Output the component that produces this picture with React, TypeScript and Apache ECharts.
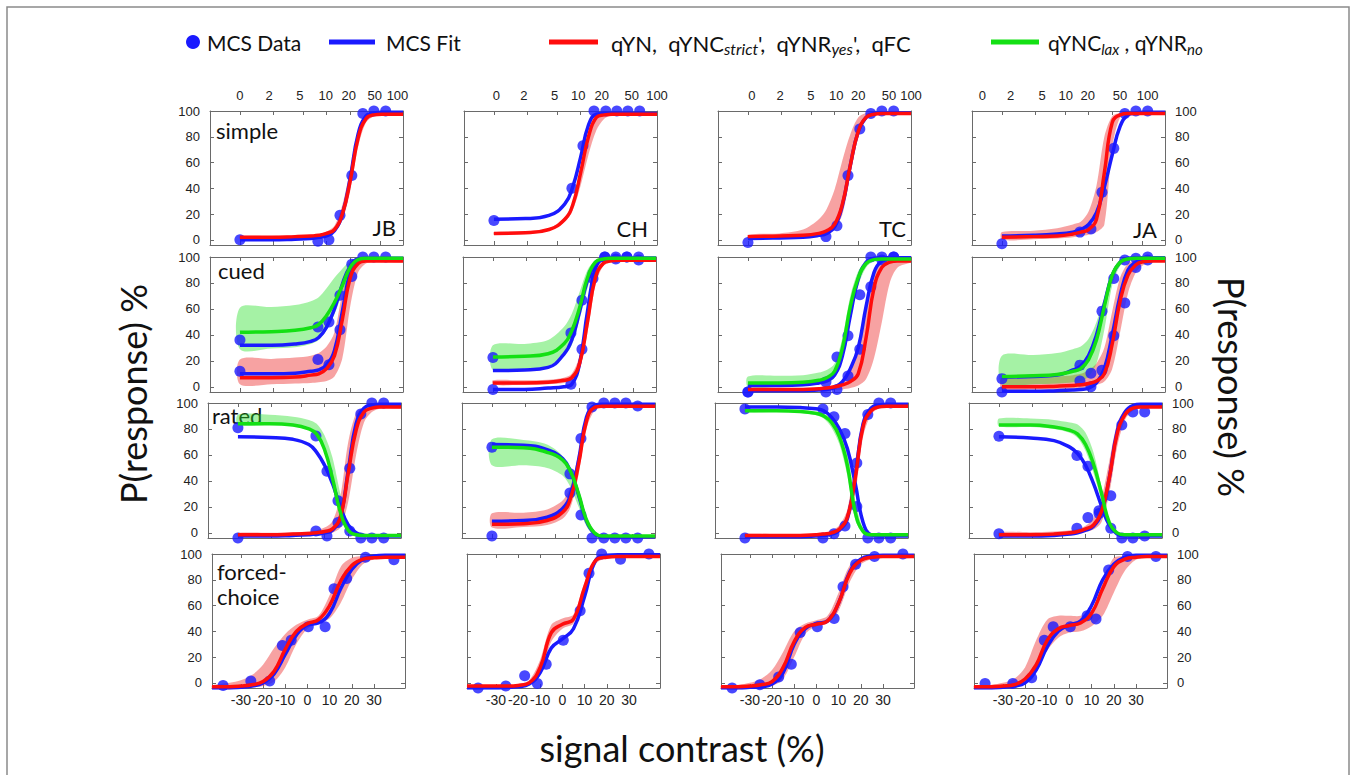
import { useEffect, useRef } from "react";
import * as echarts from "echarts";

// ---------- x grids ----------
// log10(contrast + 1) positions of the fitted curves (rows simple / cued / rated)
const FIT_LOG_CONTRAST = [0, 0.4, 0.7, 0.9, 1.0, 1.1, 1.2, 1.3, 1.4, 1.5, 1.6, 1.7, 1.8, 1.9, 2.07];
// log contrast levels of the measured points
const DATA_LOG_CONTRAST = [0, 0.99, 1.13, 1.27, 1.42, 1.56, 1.7, 1.85];
// signed contrast (%) for forced-choice fits and data
const FC_FIT_CONTRAST = [-43, -35, -30, -25, -20, -15, -10, -5, 0, 5, 10, 15, 20, 25, 30, 35, 44];
const FC_DATA_CONTRAST = [-38, -25.5, -17, -11.3, -7.3, 0.4, 8, 12, 17.7, 26.2, 39];

// ---------- tick labels ----------
const CONTRAST_TICK_LABELS = ["0", "2", "5", "10", "20", "50", "100"];
const CONTRAST_LABEL_POS = [
  [0, 0.37, 0.76, 1.09, 1.38, 1.71, 2.0],
  [0.03, 0.38, 0.77, 1.07, 1.37, 1.75, 2.07],
  [0.05, 0.41, 0.8, 1.12, 1.4, 1.79, 2.07],
  [-0.25, 0.11, 0.51, 0.81, 1.09, 1.5, 1.85],
];
const CONTRAST_TICKS = [0, 0.42, 0.81, 1.1, 1.4, 1.78];
const FC_TICK_LABELS = [-30, -20, -10, 0, 10, 20, 30];
const PCT_TICKS = [0, 20, 40, 60, 80, 100];
const SUBJECTS = ["JB", "CH", "TC", "JA"];

// ---------- simple ----------
const JB_SIMPLE_FIT = [0, 0, 0.5, 1, 2, 3, 7, 20, 48, 82, 96, 98.5, 99, 99, 99];
const JB_SIMPLE_Q = [2, 2, 2.5, 3, 3.5, 5, 8, 20, 46, 79, 94, 97, 97.5, 97.5, 97.5];
const JB_SIMPLE_Q_LO = [1, 1, 1.5, 2, 2.5, 3.5, 6, 15, 38, 72, 91, 96, 97, 97, 97];
const JB_SIMPLE_Q_HI = [3, 3, 3.5, 4, 4.5, 6.5, 11, 27, 55, 85, 96, 98, 98, 98, 98];
const JB_SIMPLE_DATA = [0, -1, 0, 19, 50, 98, 100, 100];

const CH_SIMPLE_FIT = [16, 16.5, 19, 28, 41, 64, 89, 97.5, 98, 98, 98, 98, 98, 98, 98];
const CH_SIMPLE_Q = [5, 5.5, 8, 16, 27, 52, 80, 95, 97, 97.5, 97.5, 97.5, 97.5, 97.5, 97.5];
const CH_SIMPLE_Q_LO = [4, 4.5, 7, 14, 23, 42, 66, 85, 94, 96.5, 97, 97, 97, 97, 97];
const CH_SIMPLE_Q_HI = [6, 6.5, 9, 18, 29, 56, 83, 96, 98, 98, 98, 98, 98, 98, 98];
const CH_SIMPLE_DATA = [15, 40, 73, 100, 100, 100, 100, 100];

const TC_SIMPLE_FIT = [1, 1.5, 2, 3.5, 5, 10, 27, 58, 84, 95, 98, 98.5, 98.5, 98.5, 98.5];
const TC_SIMPLE_Q = [2.5, 3, 3.5, 5, 7, 12, 28, 58, 84, 95, 97.5, 98, 98, 98, 98];
const TC_SIMPLE_Q_LO = [1, 1.5, 2, 3, 4, 8, 20, 50, 80, 93, 97, 98, 98, 98, 98];
const TC_SIMPLE_Q_HI = [4, 5, 8, 16, 24, 39, 62, 82, 95, 98.5, 99, 99, 99, 99, 99];
const TC_SIMPLE_DATA = [-2, 2.5, 11, 50, 86, 98, 100, 100];

const JA_SIMPLE_FIT = [3, 3.5, 4.5, 6, 8, 12, 21, 41, 66, 88, 97, 98.5, 99, 99, 99];
const JA_SIMPLE_Q = [2, 2.5, 3, 4.5, 6, 8, 16, 52, 91, 97, 98, 98, 98, 98, 98];
const JA_SIMPLE_Q_LO = [0, 0.5, 1, 2, 3, 4, 6, 12, 72, 95, 97, 97.5, 97.5, 97.5, 97.5];
const JA_SIMPLE_Q_HI = [6, 7, 9, 12, 14, 22, 42, 80, 96, 98.5, 99, 99, 99, 99, 99];
const JA_SIMPLE_DATA = [-3, 6, 8.5, 37, 71, 98, 100, 100];

// ---------- cued ----------
const JB_CUED_FIT_LAX = [32, 32, 33, 35, 38, 46, 60, 79, 93, 98.5, 99, 99, 99, 99, 99];
const JB_CUED_FIT_STRICT = [10, 10, 10.5, 12, 13, 17, 28, 58, 88, 97, 98.5, 98.5, 98.5, 98.5, 98.5];
const JB_CUED_Q = [7, 7, 7.5, 9, 10, 14, 24, 52, 84, 95, 97, 97, 97, 97, 97];
const JB_CUED_Q_LO = [2, 2, 2.5, 3, 3.5, 4.5, 8, 22, 62, 88, 95, 96, 96, 96, 96];
const JB_CUED_Q_HI = [21, 21.5, 22.5, 24, 26, 31, 42, 72, 92, 97.5, 98, 98, 98, 98, 98];
const JB_CUED_LAX = [42, 42.5, 43.5, 45.5, 48, 55, 65, 78, 92, 98, 99, 99, 99, 99, 99];
const JB_CUED_LAX_LO = [29, 29.5, 30.5, 33, 36, 44, 56, 72, 87, 96, 98, 98, 98, 98, 98];
const JB_CUED_LAX_HI = [61, 61.5, 63, 66, 69, 76, 84, 91, 97, 99, 99.5, 99.5, 99.5, 99.5, 99.5];
const JB_CUED_DATA_LAX = [36, 46, 50, 70.5, 94.5, null, null, null];
const JB_CUED_DATA_STRICT = [12, 21, 17, 44, 85, 100, 100, 100];

const CH_CUED_FIT_LAX = [12.5, 13, 15, 25, 36, 58, 82, 95, 98.5, 99, 99, 99, 99, 99, 99];
const CH_CUED_FIT_STRICT = [-2, -2, -1, 0, 2, 18, 58, 91, 98.5, 99, 99, 99, 99, 99, 99];
const CH_CUED_Q = [3, 3, 3.5, 5, 7, 18, 50, 84, 95, 97, 97.5, 97.5, 97.5, 97.5, 97.5];
const CH_CUED_Q_LO = [1.5, 1.5, 2, 3, 5, 13, 42, 78, 93, 96, 97, 97, 97, 97, 97];
const CH_CUED_Q_HI = [5, 5, 5.5, 7, 10, 24, 60, 90, 97, 98, 98, 98, 98, 98, 98];
const CH_CUED_LAX = [23, 23.5, 25.5, 33, 43, 61, 84, 96, 98.5, 99, 99, 99, 99, 99, 99];
const CH_CUED_LAX_LO = [13, 14, 16, 24, 32, 52, 76, 93, 97.5, 98.5, 98.5, 98.5, 98.5, 98.5, 98.5];
const CH_CUED_LAX_HI = [32, 33, 36, 46, 56, 73, 90, 97.5, 99, 99.5, 99.5, 99.5, 99.5, 99.5, 99.5];
const CH_CUED_DATA_LAX = [22.6, 41.5, 66.6, 87.3, 100, 98.4, 100, 100];
const CH_CUED_DATA_STRICT = [-2, 2, 29, 83.5, 100, 100, 100, 97.7];

const TC_CUED_FIT_LAX = [1, 1, 1.5, 3, 4.5, 9, 24, 55, 83, 96, 99, 99.5, 99.5, 99.5, 99.5];
const TC_CUED_FIT_STRICT = [-3, -3, -3, -2.5, -2, -0.5, 4, 14, 30, 62, 88, 97, 98.5, 98.5, 98.5];
const TC_CUED_Q = [-2, -2, -2, -1.5, -1, 0, 1.5, 4, 10, 38, 76, 92, 96, 97, 97];
const TC_CUED_Q_LO = [-3, -3, -3, -3, -3, -2.5, -2, -1, 1, 6, 22, 50, 80, 92, 96];
const TC_CUED_Q_HI = [-1, -1, -1, -0.5, 0, 1.5, 5, 14, 32, 66, 88, 96, 97.5, 98, 98];
const TC_CUED_LAX = [3, 3, 3.5, 5, 7, 12, 30, 62, 84, 95, 98, 98.5, 98.5, 98.5, 98.5];
const TC_CUED_LAX_LO = [0, 0, 0.5, 2, 3, 7, 22, 53, 78, 92, 97, 98, 98, 98, 98];
const TC_CUED_LAX_HI = [8, 8.5, 9, 11, 13, 18, 38, 70, 89, 97, 99, 99, 99, 99, 99];
const TC_CUED_DATA_LAX = [-4, 3.7, 23, 39.4, 71, 100, 100, 100];
const TC_CUED_DATA_STRICT = [-4, -4, -2, 8.4, 29, 77, 97.7, 100];

const JA_CUED_FIT_LAX = [7.5, 8, 9, 13, 16, 24, 40, 64, 86, 96, 99, 99.5, 99.5, 99.5, 99.5];
const JA_CUED_FIT_STRICT = [-3.5, -3.5, -3, -2.5, -2, -1, 3, 14, 40, 70, 90, 96, 98, 98.5, 98.5];
const JA_CUED_Q = [0, 0, 0.5, 1, 1.5, 2.5, 4.5, 10, 33, 66, 86, 94, 96.5, 97, 97];
const JA_CUED_Q_LO = [-2, -2, -2, -1.5, -1, 0, 1.5, 4, 14, 42, 72, 88, 94, 96, 96.5];
const JA_CUED_Q_HI = [7, 7, 8, 9, 10, 13, 18, 30, 58, 84, 95, 97.5, 98, 98, 98];
const JA_CUED_LAX = [8, 8.5, 9.5, 12, 14, 21, 36, 62, 86, 96, 98.5, 99, 99, 99, 99];
const JA_CUED_LAX_LO = [2, 2, 2.5, 3.5, 4.5, 8, 18, 44, 78, 93, 97, 98, 98, 98, 98];
const JA_CUED_LAX_HI = [24, 24.5, 26, 29, 31, 37, 50, 69, 89, 97, 99, 99, 99, 99, 99];
const JA_CUED_DATA_LAX = [6.3, 16.7, 10.5, 58.3, 83.5, 97.7, 99, 100];
const JA_CUED_DATA_STRICT = [-4, 4.5, 0, 12.8, 39.4, 64.5, 92, 97.7];

// ---------- rated ----------
const JB_RATED_FIT_NO = [74, 73.5, 72, 68, 62, 52, 38, 20, 6, 0, -2, -2.5, -2.5, -2.5, -2.5];
const JB_RATED_FIT_YES = [-2.5, -2.5, -2, -1.5, -1, 0, 2, 12, 48, 84, 96, 98.5, 99, 99, 99];
const JB_RATED_Q = [-1.5, -1.5, -1, -0.5, 0, 1, 3, 12, 46, 79, 93, 96, 97, 97, 97];
const JB_RATED_Q_LO = [-2.5, -2.5, -2.5, -2, -2, -1.5, 0, 4, 24, 60, 85, 93, 95.5, 96, 96];
const JB_RATED_Q_HI = [0, 0, 0.5, 1, 2, 4, 9, 28, 70, 92, 97, 98, 98, 98, 98];
const JB_RATED_NO = [84, 84, 83, 80, 76, 64, 42, 16, 2, -1.5, -2, -2, -2, -2, -2];
const JB_RATED_NO_LO = [83, 83, 82, 79, 74.5, 62, 38, 13, 0.5, -2, -2.5, -2.5, -2.5, -2.5, -2.5];
const JB_RATED_NO_HI = [91, 91, 89.5, 87, 84, 75, 58, 30, 6, 0, -1.5, -1.5, -1.5, -1.5, -1.5];
const JB_RATED_DATA_NO = [81, 74.6, 47.4, 24.7, 1.4, -4, -4, -4];
const JB_RATED_DATA_YES = [-4, 1.4, -2.5, 7.9, 49.8, 91.5, 100, 100];

const CH_RATED_FIT_NO = [68, 67.5, 64, 57, 47, 29, 9, -0.5, -3, -3, -3, -3, -3, -3, -3];
const CH_RATED_FIT_YES = [9, 9.5, 12, 19, 30, 56, 89, 98, 99, 99, 99, 99, 99, 99, 99];
const CH_RATED_Q = [6.5, 7, 9.5, 16, 27, 53, 86, 96.5, 97.5, 97.5, 97.5, 97.5, 97.5, 97.5, 97.5];
const CH_RATED_Q_LO = [4, 4.5, 6, 11, 20, 45, 80, 94, 96.5, 96.5, 96.5, 96.5, 96.5, 96.5, 96.5];
const CH_RATED_Q_HI = [15, 15.5, 18, 25, 36, 62, 91, 98, 98.5, 98.5, 98.5, 98.5, 98.5, 98.5, 98.5];
const CH_RATED_NO = [66, 65.5, 62, 56, 47, 30, 10, 0, -2.5, -2.5, -2.5, -2.5, -2.5, -2.5, -2.5];
const CH_RATED_NO_LO = [52, 52, 50, 44, 35, 20, 5, -2, -3, -3, -3, -3, -3, -3, -3];
const CH_RATED_NO_HI = [72, 71.5, 68, 59, 48, 31, 11, 0, -2, -2, -2, -2, -2, -2, -2];
const CH_RATED_DATA_NO = [66, 45.4, 13.8, -4, -4, -4, -4, -4];
const CH_RATED_DATA_YES = [-2.5, 30.7, 72.6, 97, 100, 100, 100, 97.7];

const TC_RATED_FIT_NO = [97, 97, 96.5, 95.5, 94, 89, 80, 65, 38, 8, -1.5, -2.5, -2.5, -2.5, -2.5];
const TC_RATED_FIT_YES = [-3, -3, -3, -2.5, -2, -1, 2, 11, 44, 84, 96, 98.5, 99, 99, 99];
const TC_RATED_Q = [-2, -2, -2, -1.5, -1, 0, 3, 12, 42, 82, 94, 97, 97.5, 97.5, 97.5];
const TC_RATED_Q_LO = [-3, -3, -3, -2.5, -2, -1, 1, 7, 30, 74, 91, 96, 97, 97, 97];
const TC_RATED_Q_HI = [-1, -1, -1, -0.5, 0, 1.5, 6, 18, 55, 88, 96, 98, 98, 98, 98];
const TC_RATED_NO = [94, 94, 93.5, 92, 90, 85, 74, 52, 16, 1, -1.5, -1.5, -1.5, -1.5, -1.5];
const TC_RATED_NO_LO = [93, 93, 92.5, 90.5, 88, 81, 68, 44, 10, -0.5, -2, -2, -2, -2, -2];
const TC_RATED_NO_HI = [95, 95, 94.5, 93.5, 92, 88.5, 80, 62, 25, 3, -1, -1, -1, -1, -1];
const TC_RATED_DATA_NO = [95.3, 95.3, 89.4, 76.5, 20.3, -4, -4, -4];
const TC_RATED_DATA_YES = [-4, -4, -0.7, 5.3, 53.7, 91.2, 100, 100];

const JA_RATED_FIT_NO = [74, 73, 71, 66, 61, 52, 38, 21, 6, -1, -2.5, -2.5, -2.5, -2.5, -2.5];
const JA_RATED_FIT_YES = [-2.5, -2.5, -2, -1, 0, 2, 5, 15, 42, 78, 93, 98, 99, 99, 99];
const JA_RATED_Q = [-1.5, -1.5, -1, 0, 1, 3, 6, 16, 42, 76, 91, 96, 97, 97, 97];
const JA_RATED_Q_LO = [-3, -3, -2.5, -2, -1, 0.5, 2.5, 8, 30, 66, 87, 94, 96, 96.5, 96.5];
const JA_RATED_Q_HI = [0.5, 0.5, 1, 2, 3, 5.5, 11, 26, 55, 84, 95, 97.5, 98, 98, 98];
const JA_RATED_NO = [83, 83, 81.5, 79, 76, 68, 53, 31, 8, 0, -1.5, -1.5, -1.5, -1.5, -1.5];
const JA_RATED_NO_LO = [82, 81.5, 80, 77, 73, 63, 46, 25, 5, -1, -2, -2, -2, -2, -2];
const JA_RATED_NO_HI = [88, 88, 87, 85, 83.5, 77, 62, 36, 9, 0.5, -1, -1, -1, -1, -1];
const JA_RATED_DATA_NO = [74.4, 59.6, 51.3, 17, 3.5, -4, -4, -2.5];
const JA_RATED_DATA_YES = [-0.7, 3.5, 11.7, 14.8, 28.6, 83, 93, 93];

// ---------- forced-choice ----------
const JB_FC_FIT = [-4, -4, -3.5, -2.5, 0, 7, 22, 37, 45, 46.5, 54, 73, 88, 96, 98.5, 99, 99];
const JB_FC_Q = [-3, -3, -2.5, -1.5, 1, 9, 26, 40, 46, 49, 60, 79, 91, 96, 97, 97.5, 97.5];
const JB_FC_Q_LO = [-4, -4, -4, -3.5, -2.5, 1, 12, 30, 42, 46, 50, 62, 80, 92, 96, 97, 97];
const JB_FC_Q_HI = [-2, 0, 2, 6, 14, 27, 38, 45, 49, 52, 68, 90, 97, 98.5, 99, 99, 99];
const JB_FC_DATA = [-2, 1.5, 1.5, 29, 33, 43.5, 43.5, 73, 81, 97.5, 95.5];

const CH_FC_FIT = [-4, -4, -4, -3.5, -3, -1, 8, 27, 34, 42, 67, 95, 99, 99.5, 99.5, 99.5, 99.5];
const CH_FC_Q = [-2.5, -2.5, -2.5, -2.5, -2, 0, 12, 39, 45.5, 49.5, 74, 95, 97.5, 98, 98, 98, 98];
const CH_FC_Q_LO = [-3, -3, -3, -3, -2.5, -1.5, 6, 32, 42, 46, 66, 92, 97, 97.5, 97.5, 97.5, 97.5];
const CH_FC_Q_HI = [-2, -2, -2, -2, -1, 2, 18, 45, 50, 53, 78, 96, 98, 98.5, 98.5, 98.5, 98.5];
const CH_FC_DATA = [-4, -2.5, 5.5, -0.5, 14.5, 33, 56, 85, 100, 96, 100];

const TC_FC_FIT = [-4, -4, -3.5, -3, -1, 8, 30, 42, 46, 48, 62, 86, 96, 98.5, 99, 99, 99];
const TC_FC_Q = [-3, -3, -2.5, -1.5, 1, 12, 32, 43, 45.5, 48, 62, 85, 95, 97.5, 98, 98, 98];
const TC_FC_Q_LO = [-4, -4, -4, -3.5, -2.5, 3, 20, 38, 44, 46, 56, 78, 92, 96, 97, 97, 97];
const TC_FC_Q_HI = [-2, -1.5, 0, 3, 10, 24, 40, 46, 48.5, 52, 70, 91, 97, 98.5, 99, 99, 99];
const TC_FC_DATA = [-4, -1.5, 4.5, 14.5, 39, 43.5, 50, 74.5, 92, 98, 100];

const JA_FC_FIT = [-4, -4, -3.5, -2.5, 0, 10, 28, 40, 45, 48, 60, 80, 92, 97.5, 99, 99, 99];
const JA_FC_Q = [-3, -3, -2.5, -1.5, 3, 14, 33, 42, 44.5, 46.5, 54, 73, 90, 96, 97.5, 98, 98];
const JA_FC_Q_LO = [-4, -4, -3.5, -2, 1, 9, 25, 35, 39, 40, 44, 52, 70, 87, 95.5, 97, 97];
const JA_FC_Q_HI = [-2, -1.5, 0, 3, 12, 33, 49, 52, 52, 52, 56, 78, 97, 98.5, 99, 99, 99];
const JA_FC_DATA = [-0.5, -0.5, 4, 33, 43.5, 43.5, 52, 49.5, 87.5, 98, 98];

type Panel = {
  blue: number[][];
  red: number[];
  redLo: number[];
  redHi: number[];
  green?: number[];
  greenLo?: number[];
  greenHi?: number[];
  dots: (number | null)[][];
};

const PANELS: Panel[][] = [
  [
    { blue: [JB_SIMPLE_FIT], red: JB_SIMPLE_Q, redLo: JB_SIMPLE_Q_LO, redHi: JB_SIMPLE_Q_HI, dots: [JB_SIMPLE_DATA] },
    { blue: [CH_SIMPLE_FIT], red: CH_SIMPLE_Q, redLo: CH_SIMPLE_Q_LO, redHi: CH_SIMPLE_Q_HI, dots: [CH_SIMPLE_DATA] },
    { blue: [TC_SIMPLE_FIT], red: TC_SIMPLE_Q, redLo: TC_SIMPLE_Q_LO, redHi: TC_SIMPLE_Q_HI, dots: [TC_SIMPLE_DATA] },
    { blue: [JA_SIMPLE_FIT], red: JA_SIMPLE_Q, redLo: JA_SIMPLE_Q_LO, redHi: JA_SIMPLE_Q_HI, dots: [JA_SIMPLE_DATA] },
  ],
  [
    { blue: [JB_CUED_FIT_LAX, JB_CUED_FIT_STRICT], red: JB_CUED_Q, redLo: JB_CUED_Q_LO, redHi: JB_CUED_Q_HI, green: JB_CUED_LAX, greenLo: JB_CUED_LAX_LO, greenHi: JB_CUED_LAX_HI, dots: [JB_CUED_DATA_LAX, JB_CUED_DATA_STRICT] },
    { blue: [CH_CUED_FIT_LAX, CH_CUED_FIT_STRICT], red: CH_CUED_Q, redLo: CH_CUED_Q_LO, redHi: CH_CUED_Q_HI, green: CH_CUED_LAX, greenLo: CH_CUED_LAX_LO, greenHi: CH_CUED_LAX_HI, dots: [CH_CUED_DATA_LAX, CH_CUED_DATA_STRICT] },
    { blue: [TC_CUED_FIT_LAX, TC_CUED_FIT_STRICT], red: TC_CUED_Q, redLo: TC_CUED_Q_LO, redHi: TC_CUED_Q_HI, green: TC_CUED_LAX, greenLo: TC_CUED_LAX_LO, greenHi: TC_CUED_LAX_HI, dots: [TC_CUED_DATA_LAX, TC_CUED_DATA_STRICT] },
    { blue: [JA_CUED_FIT_LAX, JA_CUED_FIT_STRICT], red: JA_CUED_Q, redLo: JA_CUED_Q_LO, redHi: JA_CUED_Q_HI, green: JA_CUED_LAX, greenLo: JA_CUED_LAX_LO, greenHi: JA_CUED_LAX_HI, dots: [JA_CUED_DATA_LAX, JA_CUED_DATA_STRICT] },
  ],
  [
    { blue: [JB_RATED_FIT_NO, JB_RATED_FIT_YES], red: JB_RATED_Q, redLo: JB_RATED_Q_LO, redHi: JB_RATED_Q_HI, green: JB_RATED_NO, greenLo: JB_RATED_NO_LO, greenHi: JB_RATED_NO_HI, dots: [JB_RATED_DATA_NO, JB_RATED_DATA_YES] },
    { blue: [CH_RATED_FIT_NO, CH_RATED_FIT_YES], red: CH_RATED_Q, redLo: CH_RATED_Q_LO, redHi: CH_RATED_Q_HI, green: CH_RATED_NO, greenLo: CH_RATED_NO_LO, greenHi: CH_RATED_NO_HI, dots: [CH_RATED_DATA_NO, CH_RATED_DATA_YES] },
    { blue: [TC_RATED_FIT_NO, TC_RATED_FIT_YES], red: TC_RATED_Q, redLo: TC_RATED_Q_LO, redHi: TC_RATED_Q_HI, green: TC_RATED_NO, greenLo: TC_RATED_NO_LO, greenHi: TC_RATED_NO_HI, dots: [TC_RATED_DATA_NO, TC_RATED_DATA_YES] },
    { blue: [JA_RATED_FIT_NO, JA_RATED_FIT_YES], red: JA_RATED_Q, redLo: JA_RATED_Q_LO, redHi: JA_RATED_Q_HI, green: JA_RATED_NO, greenLo: JA_RATED_NO_LO, greenHi: JA_RATED_NO_HI, dots: [JA_RATED_DATA_NO, JA_RATED_DATA_YES] },
  ],
  [
    { blue: [JB_FC_FIT], red: JB_FC_Q, redLo: JB_FC_Q_LO, redHi: JB_FC_Q_HI, dots: [JB_FC_DATA] },
    { blue: [CH_FC_FIT], red: CH_FC_Q, redLo: CH_FC_Q_LO, redHi: CH_FC_Q_HI, dots: [CH_FC_DATA] },
    { blue: [TC_FC_FIT], red: TC_FC_Q, redLo: TC_FC_Q_LO, redHi: TC_FC_Q_HI, dots: [TC_FC_DATA] },
    { blue: [JA_FC_FIT], red: JA_FC_Q, redLo: JA_FC_Q_LO, redHi: JA_FC_Q_HI, dots: [JA_FC_DATA] },
  ],
];

// ---------- layout & style ----------
const GRID_LEFT = [
  [210, 464, 718, 972],
  [210, 463, 718, 972],
  [208, 462, 715, 969],
  [212, 467, 721, 974],
];
const GRID_TOP = [111, 257, 403, 554];
const GRID_H = [134, 135, 135, 134];
const GRID_W = 193;

const BLUE = "#1a1aff";
const RED = "#ff0d0d";
const GREEN = "#14e014";
const RED_BAND = "rgba(238, 60, 60, 0.48)";
const GREEN_BAND = "rgba(40, 225, 40, 0.42)";
const SANS = "Lato, 'Open Sans', sans-serif";
const AXIS_FONT = "'Liberation Sans', Arial, sans-serif";

const AXIS_LINE = { show: true, onZero: false, lineStyle: { color: "#6a6a6a", width: 1 } };
const TICK = { show: true, inside: true, length: 4, lineStyle: { color: "#6a6a6a", width: 1 } };
const LABEL = { show: true, color: "#222", fontSize: 13, fontFamily: AXIS_FONT };

function lineSeries(g: number, xs: number[], ys: number[], color: string) {
  return {
    type: "line",
    xAxisIndex: 2 * g,
    yAxisIndex: 2 * g,
    data: xs.map((x, i) => [x, ys[i]]),
    smooth: 0.45,
    symbol: "none",
    silent: true,
    lineStyle: { color, width: 3.5 },
  };
}

// band between two read boundary curves, drawn as one smoothed polygon
function bandSeries(g: number, xs: number[], lo: number[], hi: number[], color: string) {
  return {
    type: "custom",
    xAxisIndex: 2 * g,
    yAxisIndex: 2 * g,
    silent: true,
    data: xs.map((x, i) => [x, lo[i], hi[i]]),
    encode: { x: 0, y: [1, 2] },
    renderItem: (params: any, api: any) => {
      if (params.dataIndex !== 0) return null;
      const upper = xs.map((x, i) => api.coord([x, hi[i]]));
      const lower = xs.map((x, i) => api.coord([x, lo[i]])).reverse();
      return {
        type: "polygon",
        shape: { points: upper.concat(lower), smooth: 0.3 },
        style: { fill: color, stroke: "none" },
      };
    },
  };
}

function buildOption() {
  const grid: any[] = [];
  const xAxis: any[] = [];
  const yAxis: any[] = [];
  const series: any[] = [];

  PANELS.forEach((rowPanels, r) =>
    rowPanels.forEach((p, c) => {
      const g = r * 4 + c;
      const fc = r === 3;
      const min = fc ? -43 : -0.38;
      const max = fc ? 44 : 2.07;
      const ticks = fc ? FC_TICK_LABELS : CONTRAST_TICKS;
      grid.push({ left: GRID_LEFT[r][c], top: GRID_TOP[r], width: GRID_W, height: GRID_H[r] });

      xAxis.push({
        gridIndex: g, type: "value", position: "bottom", min, max,
        axisLine: AXIS_LINE, splitLine: { show: false },
        axisTick: { ...TICK, customValues: ticks },
        axisLabel: fc
          ? { ...LABEL, fontSize: 14, margin: 5, customValues: FC_TICK_LABELS, formatter: (v: number) => String(v) }
          : { show: false },
      });
      const pos = CONTRAST_LABEL_POS[c];
      xAxis.push({
        gridIndex: g, type: "value", position: "top", min, max,
        axisLine: AXIS_LINE, splitLine: { show: false },
        axisTick: { ...TICK, customValues: ticks },
        axisLabel: r === 0
          ? {
              ...LABEL, margin: 9, customValues: pos,
              formatter: (v: number, idx: number) => {
                const i = pos.findIndex((q) => Math.abs(q - v) < 1e-6);
                return CONTRAST_TICK_LABELS[i >= 0 ? i : idx] ?? "";
              },
            }
          : { show: false },
      });
      yAxis.push({
        gridIndex: g, type: "value", position: "left", min: -4, max: 100,
        axisLine: AXIS_LINE, splitLine: { show: false },
        axisTick: { ...TICK, customValues: PCT_TICKS },
        axisLabel: c === 0 ? { ...LABEL, margin: 10, customValues: PCT_TICKS } : { show: false },
      });
      yAxis.push({
        gridIndex: g, type: "value", position: "right", min: -4, max: 100,
        axisLine: AXIS_LINE, splitLine: { show: false },
        axisTick: { ...TICK, customValues: PCT_TICKS },
        axisLabel: c === 3 ? { ...LABEL, margin: 10, customValues: PCT_TICKS } : { show: false },
      });

      const xs = fc ? FC_FIT_CONTRAST : FIT_LOG_CONTRAST;
      const dx = fc ? FC_DATA_CONTRAST : DATA_LOG_CONTRAST;

      p.blue.forEach((b) => series.push(lineSeries(g, xs, b, BLUE)));
      series.push(bandSeries(g, xs, p.redLo, p.redHi, RED_BAND));
      series.push(lineSeries(g, xs, p.red, RED));
      p.dots.forEach((d) =>
        series.push({
          type: "scatter",
          xAxisIndex: 2 * g,
          yAxisIndex: 2 * g,
          symbolSize: 11,
          clip: false,
          silent: true,
          itemStyle: { color: BLUE },
          data: dx.map((x, i) => (d[i] == null ? null : [x, d[i]])).filter((v) => v !== null),
        })
      );
      if (p.green && p.greenLo && p.greenHi) {
        series.push(bandSeries(g, xs, p.greenLo, p.greenHi, GREEN_BAND));
        series.push(lineSeries(g, xs, p.green, GREEN));
      }
    })
  );

  const panelText = (text: string, x: number, y: number, align: string, extra: any = {}) => ({
    type: "text", x, y, silent: true,
    style: { text, fill: "#111", font: `22px ${SANS}`, align, verticalAlign: "middle", ...extra },
  });

  const legendRich = {
    a: { fontSize: 22, fontFamily: SANS, fill: "#111", lineHeight: 24, padding: [0, 0, 5, 0], verticalAlign: "top" },
    s: { fontSize: 16, fontFamily: SANS, fontStyle: "italic", fill: "#111", lineHeight: 16, verticalAlign: "bottom" },
  };

  const graphic: any[] = [
    { type: "rect", silent: true, shape: { x: 7, y: 7, width: 1342, height: 800 }, style: { fill: "none", stroke: "#8a8a8a", lineWidth: 1.5 } },
    // legend
    { type: "circle", silent: true, shape: { cx: 193, cy: 42, r: 7 }, style: { fill: BLUE } },
    { type: "text", x: 207, y: 42, silent: true, style: { text: "MCS Data", fill: "#111", font: `21px ${SANS}`, verticalAlign: "middle" } },
    { type: "rect", silent: true, shape: { x: 329, y: 39.5, width: 46, height: 5 }, style: { fill: BLUE } },
    { type: "text", x: 386, y: 42, silent: true, style: { text: "MCS Fit", fill: "#111", font: `21px ${SANS}`, verticalAlign: "middle" } },
    { type: "rect", silent: true, shape: { x: 549, y: 39.5, width: 49, height: 5 }, style: { fill: RED } },
    {
      type: "text", x: 611, y: 44, silent: true,
      style: {
        text: "{a|qYN,  qYNC}{s|strict}{a|',  qYNR}{s|yes}{a|',  qFC}",
        verticalAlign: "middle",
        rich: legendRich,
      },
    },
    { type: "rect", silent: true, shape: { x: 991, y: 39.5, width: 48, height: 5 }, style: { fill: GREEN } },
    {
      type: "text", x: 1048, y: 44, silent: true,
      style: {
        text: "{a|qYNC}{s|lax}{a| , qYNR}{s|no}",
        verticalAlign: "middle",
        rich: {
          a: { ...legendRich.a, fontSize: 21 },
          s: { ...legendRich.s, fontSize: 15 },
        },
      },
    },
    // axis titles
    { type: "text", x: 133, y: 394, rotation: Math.PI / 2, silent: true, style: { text: "P(response) %", fill: "#111", font: `36px ${SANS}`, align: "center", verticalAlign: "middle" } },
    { type: "text", x: 1232, y: 387, rotation: -Math.PI / 2, silent: true, style: { text: "P(response) %", fill: "#111", font: `36px ${SANS}`, align: "center", verticalAlign: "middle" } },
    { type: "text", x: 682, y: 748, silent: true, style: { text: "signal contrast (%)", fill: "#111", font: `36px ${SANS}`, align: "center", verticalAlign: "middle" } },
    // panel labels
    panelText("simple", 216, 130, "left"),
    panelText("cued", 218, 270, "left"),
    panelText("rated", 212, 415, "left"),
    panelText("forced-\nchoice", 217, 584, "left", { lineHeight: 25 }),
    panelText(SUBJECTS[0], 396, 227, "right"),
    panelText(SUBJECTS[1], 648, 228, "right"),
    panelText(SUBJECTS[2], 906, 228, "right"),
    panelText(SUBJECTS[3], 1157, 229, "right"),
  ];

  return { animation: false, backgroundColor: "#ffffff", grid, xAxis, yAxis, series, graphic };
}

export default function App() {
  const ref = useRef<HTMLDivElement>(null);
  useEffect(() => {
    if (!ref.current) return;
    const chart = echarts.init(ref.current, null, { renderer: "svg" });
    chart.setOption(buildOption() as any);
    return () => chart.dispose();
  }, []);
  return (
    <div
      ref={ref}
      style={{ position: "fixed", left: 0, top: 0, width: 1357, height: 775, background: "#fff" }}
    />
  );
}
